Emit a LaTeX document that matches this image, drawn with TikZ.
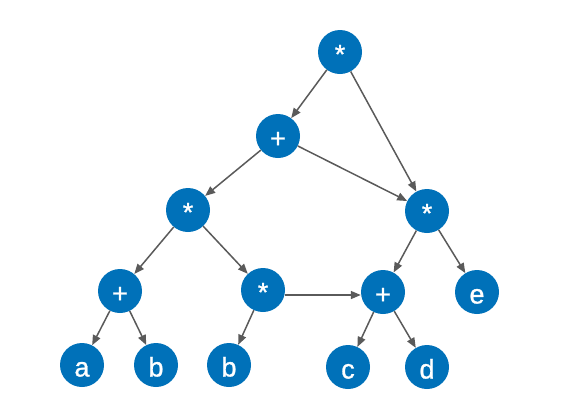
\documentclass[tikz,border=0pt]{standalone}
\usepackage{fontspec}
\setmainfont{Liberation Sans}
\newfontfamily\nodefont{Liberation Sans}[FakeBold=1.0]
\usetikzlibrary{arrows.meta}
\definecolor{nodeblue}{HTML}{0071B9}
\definecolor{edgegray}{HTML}{5A5A5A}
\begin{document}
\begin{tikzpicture}[x=1pt,y=-1pt,
  tnode/.style={circle,fill=nodeblue,draw=none,minimum size=44pt,inner sep=0pt,text=white,
    text height=23pt,text depth=0pt,font=\nodefont\fontsize{27}{27}\selectfont},
  edge/.style={draw=edgegray,line width=1.5pt,-{Triangle[length=10pt,width=8pt]}}]
\useasboundingbox (0,0) rectangle (567,416);
\node[tnode] (t) at (340,52) {*};
\node[tnode] (p1) at (278,136) {+};
\node[tnode] (m1) at (188,210) {*};
\node[tnode] (m2) at (427,211) {*};
\node[tnode] (p2) at (120,291) {+};
\node[tnode] (m3) at (263,290) {*};
\node[tnode] (p3) at (383,292) {+};
\node[tnode] (e) at (477,292) {e};
\node[tnode] (a) at (82,365) {a};
\node[tnode] (b1) at (156,365) {b};
\node[tnode] (b2) at (229,365) {b};
\node[tnode] (c) at (348,367) {c};
\node[tnode] (d) at (427,367) {d};
\draw[edge] (t) -- (p1);
\draw[edge] (t) -- (m2);
\draw[edge] (p1) -- (m1);
\draw[edge] (p1) -- (m2);
\draw[edge] (m1) -- (p2);
\draw[edge] (m1) -- (m3);
\draw[edge] (m2) -- (p3);
\draw[edge] (m2) -- (e);
\draw[edge] (p2) -- (a);
\draw[edge] (p2) -- (b1);
\draw[edge] (m3) -- (b2);
\draw[edge] ([yshift=-5pt]m3.east) -- ([yshift=-3pt]p3.west);
\draw[edge] (p3) -- (c);
\draw[edge] (p3) -- (d);
\end{tikzpicture}
\end{document}
